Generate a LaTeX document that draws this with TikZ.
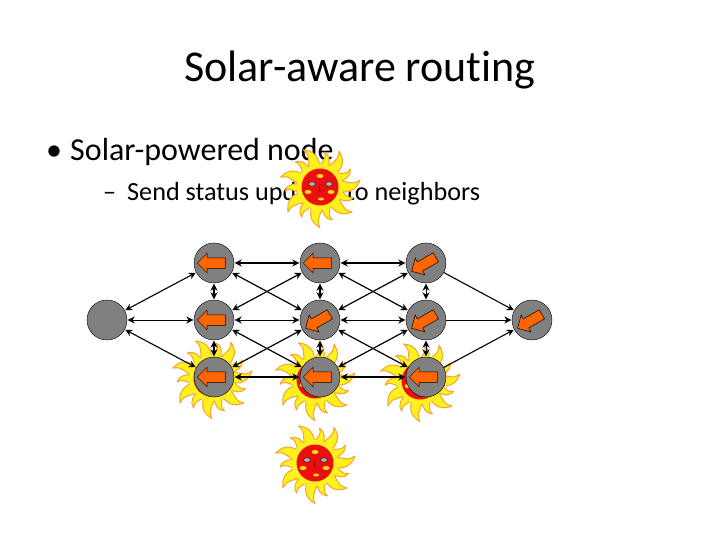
\documentclass[tikz,border=0pt]{standalone}
\usepackage{fontspec}
\setmainfont[RawFeature=-liga]{Carlito}
\usetikzlibrary{arrows.meta,shapes.arrows}
\definecolor{flame}{RGB}{245,165,50}
\definecolor{sunyellow}{RGB}{255,240,30}
\definecolor{sunred}{RGB}{235,15,15}
\definecolor{nodegray}{RGB}{128,128,128}
\definecolor{arroworange}{RGB}{255,102,0}
\tikzset{
	router/.style={circle,draw=black,fill=nodegray,minimum size=40pt,inner sep=0pt},
	pointer/.style={single arrow,draw=black,fill=arroworange,line width=0.5pt,inner xsep=0pt,inner ysep=5pt,
		minimum height=28pt,single arrow head extend=4.5pt},
	link/.style={black,{Stealth[length=7pt,width=7pt]}-{Stealth[length=7pt,width=7pt]},shorten >=0.5pt,shorten <=0.5pt},
	oneway/.style={black,-{Stealth[length=7pt,width=7pt]},shorten >=0.5pt},
	flamerays/.style={draw=flame,fill=sunyellow,line width=1pt,line join=round},
	sun/.pic={
		\foreach \a in {0,52,...,320}
			\draw[flamerays,rotate=\a] (18,-5) .. controls (27,-8) and (30,0) .. (40,-7) .. controls (35,6) and (27,5) .. (18,5) -- cycle;
		\foreach \a in {26,78,...,340}
			\draw[flamerays,rotate=\a] (18,-4) .. controls (25,-6) and (28,2) .. (35,-3) .. controls (32,5) and (26,4) .. (18,4) -- cycle;
		\fill[sunyellow] (0,0) circle (23);
		\fill[sunred] (0,0) circle (18.5);
		\fill[sunyellow!80!orange] (0,-11) ellipse (3.5 and 2);
		\fill[sunyellow!80!orange] (-12,5) ellipse (3.5 and 2);
		\fill[sunyellow!80!orange] (11,5) ellipse (3.5 and 2);
		\fill[sunyellow!80!orange] (1,12) ellipse (3 and 1.5);
		\draw[fill=gray!60,line width=0.3pt] (-8,-3) ellipse (3.5 and 2.2);
		\draw[fill=gray!60,line width=0.3pt] (9,-3) ellipse (3.5 and 2.2);
		\draw[line width=0.3pt] (0,-3) -- (-1,4) -- (2,4);
	}
}
\begin{document}
\begin{tikzpicture}[x=1pt,y=-1pt]
	\useasboundingbox (0,0) rectangle (720,540);
	\fill[white] (0,0) rectangle (720,540);

	% title and bullets
	\node[anchor=base,font=\fontsize{44}{52}\selectfont,inner sep=0pt] (title) at (360,82) {Solar-aware routing};
	\node[anchor=base west,font=\fontsize{32}{38}\selectfont,inner sep=0pt] (bulletone) at (46,161) {•};
	\node[anchor=base west,font=\fontsize{32}{38}\selectfont,inner sep=0pt] (lineone) at (70,161) {Solar-powered node};
	\node[anchor=base west,font=\fontsize{26.2}{31}\selectfont,inner sep=0pt] (dashtwo) at (103,201) {–};
	\node[anchor=base west,font=\fontsize{26.2}{31}\selectfont,inner sep=0pt] (linetwo) at (127,201) {Send status updates to neighbors};

	% suns behind the routers
	\pic at (320,187) {sun};
	\pic at (212,378) {sun};
	\pic at (315,380) {sun};
	\pic at (420,381) {sun};
	\pic at (315,463) {sun};

	% routers
	\node[router] (src) at (107,320) {};
	\node[router] (a1) at (214,263) {};
	\node[router] (a2) at (214,320) {};
	\node[router] (a3) at (214,377) {};
	\node[router] (b1) at (320,263) {};
	\node[router] (b2) at (320,320) {};
	\node[router] (b3) at (320,377) {};
	\node[router] (c1) at (426,263) {};
	\node[router] (c2) at (426,320) {};
	\node[router] (c3) at (426,377) {};
	\node[router] (dst) at (532,320) {};

	% arrows inside the routers
	\node[pointer,rotate=180] (pa1) at (a1) {};
	\node[pointer,rotate=180] (pa2) at (a2) {};
	\node[pointer,rotate=180] (pa3) at (a3) {};
	\node[pointer,rotate=180] (pb1) at (b1) {};
	\node[pointer,rotate=210] (pb2) at (b2) {};
	\node[pointer,rotate=180] (pb3) at (b3) {};
	\node[pointer,rotate=210] (pc1) at (c1) {};
	\node[pointer,rotate=210] (pc2) at (c2) {};
	\node[pointer,rotate=180] (pc3) at (c3) {};
	\node[pointer,rotate=210] (pdst) at (dst) {};

	% links
	\draw[link,line width=1.1pt] (src) -- (a1);
	\draw[link,line width=0.6pt] (src) -- (a2);
	\draw[link,line width=1.1pt] (src) -- (a3);
	\draw[link,line width=1.4pt] (a1) -- (a2);
	\draw[link,line width=1.4pt] (a2) -- (a3);
	\draw[link,line width=1.4pt] (b1) -- (b2);
	\draw[link,line width=1.4pt] (b2) -- (b3);
	\draw[link,line width=1pt] (c1) -- (c2);
	\draw[link,line width=1pt] (c2) -- (c3);
	\draw[link,line width=1.5pt] (a1) -- (b1);
	\draw[link,line width=0.6pt] (a2) -- (b2);
	\draw[link,line width=1.5pt] (a3) -- (b3);
	\draw[link,line width=1.5pt] (b1) -- (c1);
	\draw[link,line width=0.6pt] (b2) -- (c2);
	\draw[link,line width=1.5pt] (b3) -- (c3);
	\foreach \from/\to in {a1/b2,a2/b1,a2/b3,a3/b2,b1/c2,b2/c1,b2/c3,b3/c2}
		\draw[link,line width=1.2pt] (\from) -- (\to);
	\draw[oneway,line width=1.1pt] (c1) -- (dst);
	\draw[oneway,line width=0.6pt] (c2) -- (dst);
	\draw[oneway,line width=1.1pt] (c3) -- (dst);
\end{tikzpicture}
\end{document}
